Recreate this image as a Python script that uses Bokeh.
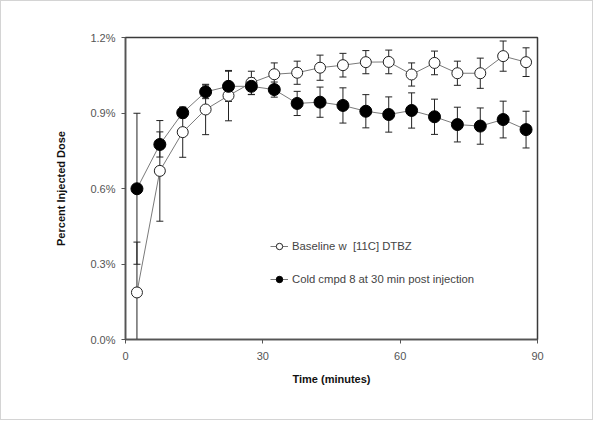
from bokeh.plotting import figure
from bokeh.models import (ColumnDataSource, Whisker, TeeHead, Legend, LegendItem,
                          Range1d, FixedTicker, CustomJSTickFormatter)
from bokeh.embed import file_html
from bokeh.resources import INLINE

# Data (percent injected dose, %)
time_min = [2.5, 7.5, 12.5, 17.5, 22.5, 27.5, 32.5, 37.5, 42.5, 47.5,
            52.5, 57.5, 62.5, 67.5, 72.5, 77.5, 82.5, 87.5]
baseline = [0.187, 0.670, 0.824, 0.914, 0.969, 1.020, 1.054, 1.060, 1.080, 1.090,
            1.102, 1.103, 1.053, 1.099, 1.058, 1.058, 1.126, 1.102]
baseline_err = [0.200, 0.200, 0.100, 0.100, 0.100, 0.046, 0.045, 0.046, 0.050, 0.047,
                0.046, 0.047, 0.046, 0.047, 0.048, 0.060, 0.060, 0.057]
cold = [0.599, 0.775, 0.901, 0.984, 1.006, 1.006, 0.993, 0.938, 0.943, 0.930,
        0.907, 0.894, 0.910, 0.885, 0.854, 0.848, 0.874, 0.834]
cold_err = [0.300, 0.050, 0.020, 0.027, 0.060, 0.033, 0.030, 0.048, 0.060, 0.070,
            0.066, 0.070, 0.070, 0.070, 0.069, 0.072, 0.073, 0.073]

label_base = "Baseline w  [11C] DTBZ"
label_cold = "Cold cmpd 8 at 30 min post injection"
x_ticks = [0, 30, 60, 90]
y_ticks = [0.0, 0.3, 0.6, 0.9, 1.2]

FONT = "Liberation Sans"

def src(vals, errs):
    lo = [max(v - e, 0.0) for v, e in zip(vals, errs)]
    hi = [v + e for v, e in zip(vals, errs)]
    return ColumnDataSource(dict(x=time_min, y=vals, lo=lo, hi=hi))

s_base = src(baseline, baseline_err)
s_cold = src(cold, cold_err)

p = figure(width=593, height=420, output_backend="svg", toolbar_location=None,
           x_range=Range1d(0, 90), y_range=Range1d(0, 1.2),
           min_border_left=124, min_border_right=57, min_border_top=36,
           min_border_bottom=82,
           styles={"border": "1px solid #d4d4d4"})
p.xgrid.visible = False
p.ygrid.visible = False
p.outline_line_color = "#3a3a3a"
p.outline_line_width = 1.5

for s in (s_base, s_cold):
    w = Whisker(source=s, base="x", lower="lo", upper="hi",
                line_color="#222222", line_width=1,
                upper_head=TeeHead(size=7, line_color="#222222", line_width=1),
                lower_head=TeeHead(size=7, line_color="#222222", line_width=1))
    p.add_layout(w)

l1 = p.line("x", "y", source=s_base, line_color="#7a7a7a", line_width=1)
c1 = p.scatter("x", "y", source=s_base, marker="circle", size=11,
               fill_color="white", line_color="#222222", line_width=1)
l2 = p.line("x", "y", source=s_cold, line_color="#7a7a7a", line_width=1)
c2 = p.scatter("x", "y", source=s_cold, marker="circle", size=12,
               fill_color="black", line_color="black", line_width=1)

legend = Legend(items=[LegendItem(label=label_base, renderers=[l1, c1]),
                       LegendItem(label=label_cold, renderers=[l2, c2])],
                location=(145, 52), border_line_color=None,
                background_fill_alpha=0, padding=0, margin=0,
                glyph_width=18, glyph_height=16, label_height=16,
                spacing=17, label_standoff=4,
                label_text_font=FONT, label_text_font_size="11.3px",
                label_text_color="#444444")
p.add_layout(legend)

p.xaxis.ticker = FixedTicker(ticks=x_ticks)
p.yaxis.ticker = FixedTicker(ticks=y_ticks)
p.yaxis.formatter = CustomJSTickFormatter(code="return tick.toFixed(1) + '%';")
for ax in (p.xaxis, p.yaxis):
    ax.axis_line_color = "#555555"
    ax.axis_line_width = 1.5
    ax.major_tick_line_color = "#555555"
    ax.major_tick_in = 0
    ax.major_tick_out = 4
    ax.minor_tick_line_color = None
    ax.major_label_text_font = FONT
    ax.major_label_text_font_size = "11px"
    ax.major_label_text_color = "#555555"
    ax.axis_label_text_font = FONT
    ax.axis_label_text_font_size = "11px"
    ax.axis_label_text_font_style = "bold"
    ax.axis_label_text_color = "#111111"
p.xaxis.axis_label = "Time (minutes)"
p.yaxis.axis_label = "Percent Injected Dose"
p.xaxis.major_label_standoff = 8
p.xaxis.axis_label_standoff = 10
p.yaxis.major_label_standoff = 6
p.yaxis.axis_label_standoff = 20

open("out.html", "w").write(file_html(p, INLINE))
